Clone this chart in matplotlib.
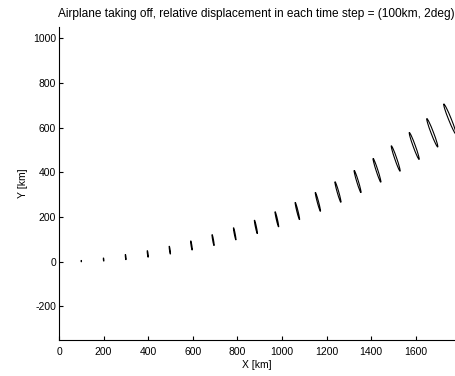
import matplotlib
matplotlib.use("Agg")
import matplotlib.pyplot as plt
from matplotlib.patches import Ellipse

# ellipse centres (km)
x_mean = [100, 200, 299, 398, 497, 594, 691, 788, 883, 977, 1069, 1161, 1251, 1339, 1426, 1510, 1593, 1674, 1753]
y_mean = [3, 10, 21, 35, 52, 73, 97, 125, 156, 190, 227, 268, 312, 359, 409, 462, 518, 577, 638]
# full axis lengths (km) and tilt of the long axis from vertical (deg)
major_len = [6, 14, 24, 30, 36, 42, 50, 56, 62, 70, 80, 88, 96, 104, 112, 120, 128, 136, 146]
minor_len = [1.5, 2, 2.5, 3, 3, 3.5, 4, 4, 4.5, 5, 5.5, 6, 7, 7.5, 8, 9, 10, 11, 12]
tilt_deg = [4, 5, 6, 7, 8, 9, 10, 11, 12, 13, 14, 15, 16, 17, 18, 19, 20, 21, 22]

x_ticks = [0, 200, 400, 600, 800, 1000, 1200, 1400, 1600]
y_ticks = [-200, 0, 200, 400, 600, 800, 1000]

plt.rcParams['font.family'] = ['Liberation Sans', 'DejaVu Sans']
plt.rcParams['axes.unicode_minus'] = False

fig = plt.figure(figsize=(4.56, 3.76), dpi=100)
ax = fig.add_axes([0.1294, 0.0957, 0.866, 0.8324])

for cx, cy, a, b, t in zip(x_mean, y_mean, major_len, minor_len, tilt_deg):
    e = Ellipse((cx, cy), width=b, height=a, angle=t, fill=False,
                edgecolor='black', linewidth=0.8, clip_on=False)
    ax.add_patch(e)

ax.set_xlim(0, 1771)
ax.set_ylim(-350, 1050)
ax.set_xticks(x_ticks)
ax.set_yticks(y_ticks)
ax.tick_params(direction='in', length=3, width=0.8, labelsize=7.5)
ax.tick_params(axis='x', pad=5)
ax.tick_params(axis='y', pad=2)
ax.spines['top'].set_visible(False)
ax.spines['right'].set_visible(False)
ax.spines['left'].set_linewidth(0.8)
ax.spines['bottom'].set_linewidth(0.8)

ax.set_xlabel("X [km]", fontsize=7.5, labelpad=2)
ax.set_ylabel("Y [km]", fontsize=7.5, labelpad=4)
ax.set_title("Airplane taking off, relative displacement in each time step = (100km, 2deg)",
             fontsize=8.6, pad=7)

fig.savefig("out.png", dpi=100)
